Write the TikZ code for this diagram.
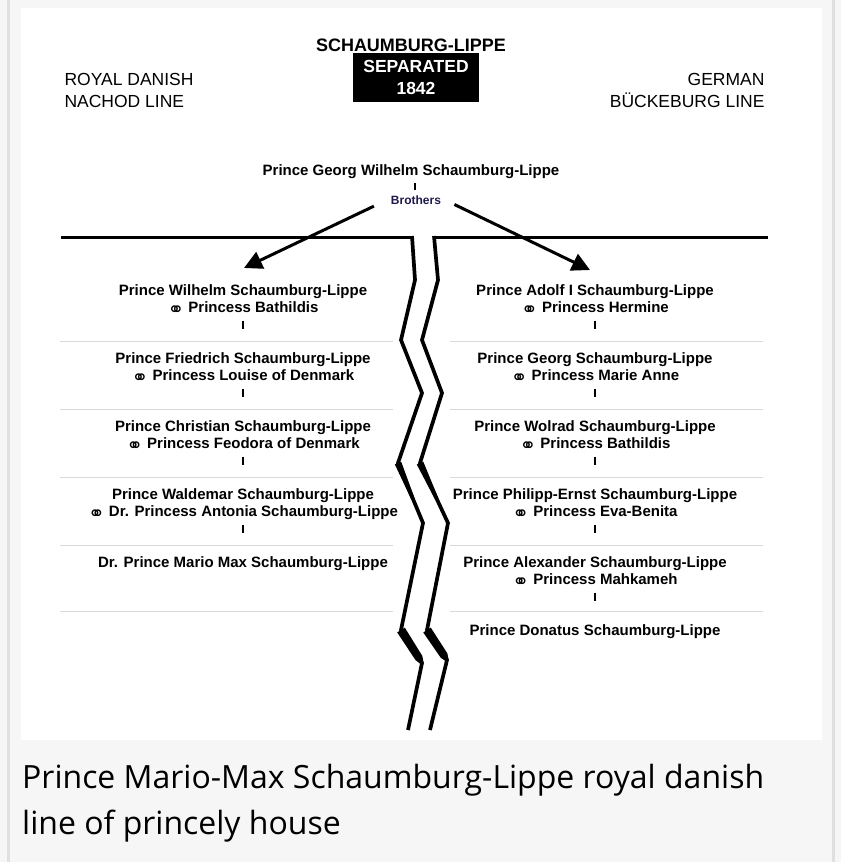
\documentclass[tikz,border=0pt]{standalone}
\usepackage{fontspec}
\setmainfont{Liberation Sans}
\newfontfamily\capfont{Open Sans}
\newfontfamily\symfont{DejaVu Sans}
\usetikzlibrary{arrows.meta}

\definecolor{pagegray}{HTML}{F6F6F6}
\definecolor{framegray}{HTML}{E0E0E0}
\definecolor{rulegray}{HTML}{DADADA}
\definecolor{brothersblue}{HTML}{1E1A4D}

\newcommand{\wed}{{\symfont\fontsize{20}{16}\selectfont\raisebox{-4.5pt}{⚭}}}

\tikzset{
  prince/.style={font=\fontsize{15}{18}\selectfont\bfseries, anchor=base},
  linehead/.style={font=\fontsize{17.5}{21}\selectfont, anchor=base},
  sepline/.style={rulegray, line width=1pt},
  crack/.style={line width=3.7pt, line join=miter},
  brarrow/.style={line width=3pt, -{Triangle[length=18pt,width=18pt]}},
  tick/.style={line width=2pt},
}

\begin{document}
\begin{tikzpicture}[x=1pt,y=-1pt]
\useasboundingbox (0,0) rectangle (841,862);
\fill[pagegray] (0,0) rectangle (841,862);
\fill[framegray] (7,0) rectangle (9.5,862);
\fill[framegray] (832,0) rectangle (835,862);
\fill[white] (21,8) rectangle (822,740);

% title and the two lines
\node[prince, font=\fontsize{18}{21}\selectfont\bfseries] (house) at (411,51) {SCHAUMBURG-LIPPE};
\node[fill=black, text=white, minimum width=126pt, minimum height=49pt, inner sep=0pt,
      align=center, font=\fontsize{17.5}{22}\selectfont\bfseries] (split) at (416,77.5) {SEPARATED\\1842};
\node[linehead, anchor=base west] (dk1) at (61,85) {ROYAL DANISH};
\node[linehead, anchor=base west] (dk2) at (61,107) {NACHOD LINE};
\node[linehead, anchor=base east] (de1) at (768,85) {GERMAN};
\node[linehead, anchor=base east] (de2) at (768,107) {BÜCKEBURG LINE};

% founder
\node[prince] (georgw) at (411,175) {Prince Georg Wilhelm Schaumburg-Lippe};
\draw[tick] (415,183) -- (415,190);
\node[prince, font=\fontsize{12}{14}\selectfont\bfseries, text=brothersblue] (bro) at (416,204) {Brothers};

\coordinate (ltip) at (244,268);
\coordinate (rtip) at (590,270);
\draw[brarrow, shorten <=15pt] (bro.west) -- (ltip);
\draw[brarrow, shorten <=11pt] (bro.east) -- (rtip);

% the break
\draw[line width=3pt] (61,237) -- (412,237);
\draw[line width=3pt] (768,237) -- (434,237);
\draw[crack] (412,236) -- (415,280) -- (401,340) -- (422,393) -- (398,463) -- (423,523)
  -- (401,630) -- (422,663) -- (408,730);
\draw[crack] (434,236) -- (438,280) -- (422,340) -- (442,393) -- (420,463) -- (448,523)
  -- (427,630) -- (447,660) -- (430,730);
% brush marks
\fill (401.2,461.7) -- (414.6,498.3) -- (411.4,499.7) -- (394.8,464.3) -- cycle;
\fill (423.2,461.5) -- (438.4,498.3) -- (435.2,499.7) -- (416.8,464.5) -- cycle;
\fill (404.8,627.6) -- (422.3,655.9) -- (423.5,662.1) -- (420.5,663.9) -- (415.5,660.1) -- (397.2,632.4) -- cycle;
\fill (430.7,627.5) -- (447.3,653.3) -- (448.5,659) -- (445.5,661) -- (440.7,657.7) -- (423.3,632.5) -- cycle;

% separators
\foreach \y in {341,409,477,545,611}{
  \draw[sepline] (60,\y) -- (393,\y);
  \draw[sepline] (450,\y) -- (763,\y);
}

% royal danish nachod line
\foreach \k/\nm/\sp in {0/Prince Wilhelm Schaumburg-Lippe/Princess Bathildis,
                       1/Prince Friedrich Schaumburg-Lippe/Princess Louise of Denmark,
                       2/Prince Christian Schaumburg-Lippe/Princess Feodora of Denmark,
                       3/Prince Waldemar Schaumburg-Lippe/Dr. Princess Antonia Schaumburg-Lippe}{
  \node[prince] (l\k) at (243,295+68*\k) {\nm};
  \node[prince] (lw\k) at (243,312+68*\k) {\wed\ \sp};
  \draw[tick] (243,321+68*\k) -- (243,329+68*\k);
}
\node[prince] (l4) at (243,567) {Dr. Prince Mario Max Schaumburg-Lippe};

% german bueckeburg line
\foreach \k/\nm/\sp in {0/Prince Adolf I Schaumburg-Lippe/Princess Hermine,
                       1/Prince Georg Schaumburg-Lippe/Princess Marie Anne,
                       2/Prince Wolrad Schaumburg-Lippe/Princess Bathildis,
                       3/Prince Philipp-Ernst Schaumburg-Lippe/Princess Eva-Benita,
                       4/Prince Alexander Schaumburg-Lippe/Princess Mahkameh}{
  \node[prince] (r\k) at (595,295+68*\k) {\nm};
  \node[prince] (rw\k) at (595,312+68*\k) {\wed\ \sp};
  \draw[tick] (595,321+68*\k) -- (595,329+68*\k);
}
\node[prince] (r5) at (595,635) {Prince Donatus Schaumburg-Lippe};

% caption
\node[anchor=base west, font=\capfont\fontsize{32}{46}\selectfont, inner sep=0pt] (cap1) at (22,788)
  {Prince Mario-Max Schaumburg-Lippe royal danish};
\node[anchor=base west, font=\capfont\fontsize{32}{46}\selectfont, inner sep=0pt] (cap2) at (22,834)
  {line of princely house};
\end{tikzpicture}
\end{document}
